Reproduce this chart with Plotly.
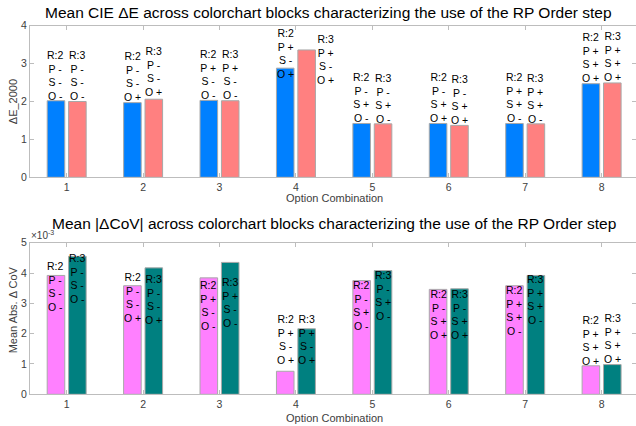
import plotly.graph_objects as go

# ---------------- data ----------------
options = [1, 2, 3, 4, 5, 6, 7, 8]
p_flag = ['-', '-', '+', '+', '-', '-', '+', '+']
s_flag = ['-', '-', '-', '-', '+', '+', '+', '+']
o_flag = ['-', '+', '-', '+', '-', '+', '-', '+']

de_r2 = [2.02, 1.97, 2.03, 2.88, 1.42, 1.42, 1.42, 2.47]
de_r3 = [2.00, 2.06, 2.02, 3.36, 1.41, 1.37, 1.41, 2.49]

cov_r2 = [3.92e-3, 3.58e-3, 3.84e-3, 0.76e-3, 3.75e-3, 3.46e-3, 3.58e-3, 0.94e-3]
cov_r3 = [4.55e-3, 4.17e-3, 4.35e-3, 2.16e-3, 4.08e-3, 3.48e-3, 3.92e-3, 0.98e-3]

x_ticks = [1, 2, 3, 4, 5, 6, 7, 8]
de_ticks = [0, 1, 2, 3, 4]
cov_ticks = [0, 1, 2, 3, 4, 5]

# ---------------- styles / label offsets (pixels; line-1 centre relative to bar top, + = down) ----
top_dy_r2 = [-44, -44.4, -44.3, -33.3, -44, -44.3, -44, -44.7]
top_dy_r3 = [-44.6, -46, -44.3, -9, -44, -44.3, -44, -44.5]
top_dx_r3 = [0, 0, 0, 19, 0, 0, 0, 0]
bot_dy_r2 = [-7, -6.3, 9, -50.6, 6.7, 7, 6.4, -44.3]
bot_dy_r3 = [3.7, 12.7, 21.7, -8.3, 6.3, 7, 5.3, -44.7]

W, H = 636, 426
L, R = 30, 0
BW = 0.23
OFF = 0.14
FONT = "Liberation Sans, Arial, sans-serif"
AX_LINE = "#BDBDBD"
TICK_TXT = "#404040"


def px(xp):
    return (xp - L) / (W - L - R)


def py(yp):
    return (H - yp) / H


top_dom = [py(177.3), py(25.7)]
bot_dom = [py(394.3), py(242.7)]

fig = go.Figure()
edge = dict(color="#A8A8A8", width=1)
fig.add_bar(x=options, y=de_r2, width=BW, offset=-OFF - BW / 2,
            marker=dict(color="#0080FF", line=edge), xaxis="x", yaxis="y", showlegend=False)
fig.add_bar(x=options, y=de_r3, width=BW, offset=OFF - BW / 2,
            marker=dict(color="#FF8080", line=edge), xaxis="x", yaxis="y", showlegend=False)
cov_r2_s = [v * 1e3 for v in cov_r2]
cov_r3_s = [v * 1e3 for v in cov_r3]
fig.add_bar(x=options, y=cov_r2_s, width=BW, offset=-OFF - BW / 2,
            marker=dict(color="#FF80FF", line=edge), xaxis="x2", yaxis="y2", showlegend=False)
fig.add_bar(x=options, y=cov_r3_s, width=BW, offset=OFF - BW / 2,
            marker=dict(color="#008080", line=edge), xaxis="x2", yaxis="y2", showlegend=False)

ann = []
C = 10  # distance from annotation box top to centre of first line


def label(r, i):
    return f"R:{r}<br>P {p_flag[i]}<br>S {s_flag[i]}<br>O {o_flag[i]}"


for i, xv in enumerate(options):
    for r, vals, dys, dxs, xr, yr, sgn in [
        (2, de_r2, top_dy_r2, [0] * 8, "x", "y", -1),
        (3, de_r3, top_dy_r3, top_dx_r3, "x", "y", 1),
        (2, cov_r2_s, bot_dy_r2, [0] * 8, "x2", "y2", -1),
        (3, cov_r3_s, bot_dy_r3, [0] * 8, "x2", "y2", 1),
    ]:
        ann.append(dict(x=xv + sgn * OFF, y=vals[i], xref=xr, yref=yr,
                        text=label(r, i), showarrow=False, align="center",
                        xanchor="center", yanchor="top",
                        yshift=-(dys[i] - C), xshift=dxs[i],
                        font=dict(family=FONT, size=10.5, color="#000000")))

# titles
ann.append(dict(x=px(328.5), y=py(12.7), xref="paper", yref="paper", showarrow=False,
                text="Mean CIE \u0394E across colorchart blocks characterizing the use of the RP Order step",
                xanchor="center", yanchor="middle", font=dict(family=FONT, size=15.5, color="#000000")))
ann.append(dict(x=px(334), y=py(223.3), xref="paper", yref="paper", showarrow=False,
                text="Mean |\u0394CoV| across colorchart blocks characterizing the use of the RP Order step",
                xanchor="center", yanchor="middle", font=dict(family=FONT, size=15.5, color="#000000")))
# axis titles
ann.append(dict(x=px(12.7), y=py(101.5), xref="paper", yref="paper", showarrow=False,
                text="\u0394E_2000", textangle=-90, xanchor="center", yanchor="middle",
                font=dict(family=FONT, size=11, color=TICK_TXT)))
ann.append(dict(x=px(13.3), y=py(310), xref="paper", yref="paper", showarrow=False,
                text="Mean Abs. \u0394 CoV", textangle=-90, xanchor="center", yanchor="middle",
                font=dict(family=FONT, size=11, color=TICK_TXT)))
ann.append(dict(x=px(334), y=py(198), xref="paper", yref="paper", showarrow=False,
                text="Option Combination", xanchor="center", yanchor="middle",
                font=dict(family=FONT, size=11, color=TICK_TXT)))
ann.append(dict(x=px(334), y=py(418), xref="paper", yref="paper", showarrow=False,
                text="Option Combination", xanchor="center", yanchor="middle",
                font=dict(family=FONT, size=11, color=TICK_TXT)))
ann.append(dict(x=px(29), y=py(235), xref="paper", yref="paper", showarrow=False,
                text="\u00d710<sup>-3</sup>", xanchor="left", yanchor="middle",
                font=dict(family=FONT, size=10, color=TICK_TXT)))

common_x = dict(range=[0.52, 8.45], tickmode="array", tickvals=x_ticks,
                ticktext=[str(t) for t in x_ticks], ticks="inside", ticklen=4,
                tickcolor=AX_LINE, showline=True, linecolor=AX_LINE, linewidth=1,
                mirror="ticks", showgrid=False, zeroline=False, automargin=False,
                tickfont=dict(family=FONT, size=10.5, color=TICK_TXT), fixedrange=True)
common_y = dict(tickmode="array", ticks="inside", ticklen=4, tickcolor=AX_LINE,
                showline=True, linecolor=AX_LINE, linewidth=1, mirror="ticks",
                showgrid=False, zeroline=False, automargin=False,
                tickfont=dict(family=FONT, size=10.5, color=TICK_TXT), fixedrange=True)

fig.update_layout(
    width=W, height=H, margin=dict(l=L, r=R, t=0, b=0, autoexpand=False),
    paper_bgcolor="white", plot_bgcolor="white", barmode="overlay",
    xaxis=dict(common_x, domain=[0, 1], anchor="y"),
    yaxis=dict(common_y, domain=top_dom, range=[0, 4], tickvals=de_ticks,
               ticktext=[str(t) for t in de_ticks], anchor="x"),
    xaxis2=dict(common_x, domain=[0, 1], anchor="y2"),
    yaxis2=dict(common_y, domain=bot_dom, range=[0, 5], tickvals=cov_ticks,
                ticktext=[str(t) for t in cov_ticks], anchor="x2"),
    annotations=ann,
    font=dict(family=FONT),
)

fig.write_html("out.html", config={"displayModeBar": False},
               post_script="document.body.style.margin='0px';")
